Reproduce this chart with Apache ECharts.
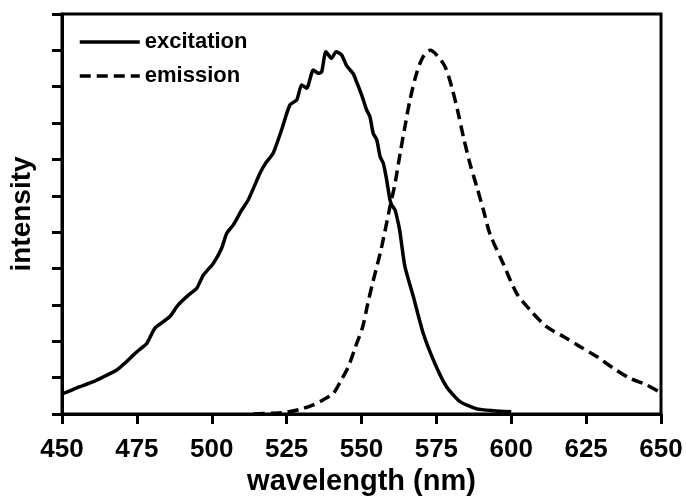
<!DOCTYPE html>
<html>
<head>
<meta charset="utf-8">
<script src="https://cdn.jsdelivr.net/npm/echarts@6/dist/echarts.min.js"></script>
<style>
html,body{margin:0;padding:0;background:#fff;}
#chart{width:686px;height:498px;}
</style>
</head>
<body>
<div id="chart"></div>
<script>
// Excitation spectrum (wavelength nm, normalized intensity)
const excWavelength = [450,455,460.5,464,468.3,471,473.8,476,478.3,481,483.5,486,488.8,492.2,495,497.2,500.5,503.3,505,507.2,510,512.2,516.1,518,520.5,523.3,526.1,528.4,530,531.7,533.9,535.6,536.7,538.1,540,541.5,543.4,545,547.3,548.4,549,550.6,551.7,552.8,553.9,555.1,556.2,557.3,558.4,559.5,560.1,561.2,562.3,562.9,564.5,567.3,570.6,574.5,578.4,582.9,588.5,594,600];
const excIntensity  = [0.055,0.072,0.089,0.103,0.121,0.14,0.162,0.178,0.194,0.236,0.252,0.268,0.30,0.327,0.346,0.382,0.414,0.456,0.497,0.52,0.561,0.589,0.662,0.69,0.717,0.781,0.85,0.864,0.905,0.896,0.946,0.937,0.941,0.996,0.978,0.996,0.987,0.958,0.935,0.912,0.90,0.864,0.836,0.818,0.772,0.754,0.708,0.689,0.644,0.589,0.575,0.561,0.524,0.497,0.405,0.323,0.222,0.139,0.075,0.034,0.014,0.009,0.006];

// Emission spectrum
const emWavelength = [514,520,525,530,533.9,537,540.6,543,545.6,548,550.4,552,553.7,556.5,559.5,561.2,562.9,564.5,566.2,568.4,570.6,572.9,575.1,577.9,580.1,582.3,584,586.2,588.5,590.7,592.9,597.3,601.8,606.3,611.8,617.4,623,628.5,634.1,639.7,645.2,650];
const emIntensity  = [0.0,0.002,0.005,0.014,0.025,0.038,0.057,0.09,0.13,0.185,0.24,0.30,0.36,0.451,0.57,0.634,0.717,0.79,0.864,0.937,0.983,1.0,0.987,0.955,0.90,0.827,0.763,0.689,0.625,0.561,0.495,0.414,0.332,0.286,0.24,0.213,0.185,0.158,0.126,0.098,0.08,0.058];

const xTicks = [450,475,500,525,550,575,600,625,650];
const seriesNames = ['excitation','emission'];

const FONT = 'Liberation Sans';
const chart = echarts.init(document.getElementById('chart'), null, {renderer:'canvas'});

const excData = excWavelength.map((w,i)=>[w, excIntensity[i]]);
const emData = emWavelength.map((w,i)=>[w, emIntensity[i]]);

chart.setOption({
  animation:false,
  backgroundColor:'#fff',
  grid:{left:62,right:25,top:14,bottom:84,containLabel:false,outerBoundsMode:'none',show:true,borderColor:'#000',borderWidth:3,backgroundColor:'transparent'},
  legend:{
    left:78, top:31, padding:0, orient:'vertical', itemWidth:60, itemHeight:14, itemGap:12,
    textStyle:{fontFamily:FONT,fontWeight:'bold',fontSize:22,color:'#000',lineHeight:20},
    itemStyle:{opacity:0},
    lineStyle:{width:3.5},
    data:[{name:seriesNames[0]},{name:seriesNames[1]}]
  },
  xAxis:{
    type:'value', min:xTicks[0], max:xTicks[xTicks.length-1], interval:25,
    name:'wavelength (nm)', nameLocation:'middle', nameGap:52,
    nameTextStyle:{fontFamily:FONT,fontWeight:'bold',fontSize:29,color:'#000'},
    axisLine:{show:true,onZero:false,lineStyle:{color:'#000',width:3}},
    axisTick:{show:true,inside:false,length:10,lineStyle:{color:'#000',width:3}},
    axisLabel:{fontFamily:FONT,fontWeight:'bold',fontSize:26,color:'#000',margin:23},
    splitLine:{show:false}
  },
  yAxis:{
    type:'value', min:0, max:1.1, interval:0.1,
    name:'intensity', nameLocation:'middle', nameGap:26, nameRotate:90,
    nameTextStyle:{fontFamily:FONT,fontWeight:'bold',fontSize:28,color:'#000'},
    axisLine:{show:true,lineStyle:{color:'#000',width:3}},
    axisTick:{show:true,inside:false,length:10,lineStyle:{color:'#000',width:3}},
    axisLabel:{show:false},
    splitLine:{show:false}
  },
  series:[
    {name:seriesNames[0], type:'line', data:excData, symbol:'none', smooth:0.2,
     lineStyle:{color:'#000',width:3.5,type:'solid'}, itemStyle:{color:'#000'}},
    {name:seriesNames[1], type:'line', data:emData, symbol:'none', smooth:0.3,
     lineStyle:{color:'#000',width:3.5,type:[11,6]}, itemStyle:{color:'#000'}}
  ]
});
</script>
</body>
</html>
